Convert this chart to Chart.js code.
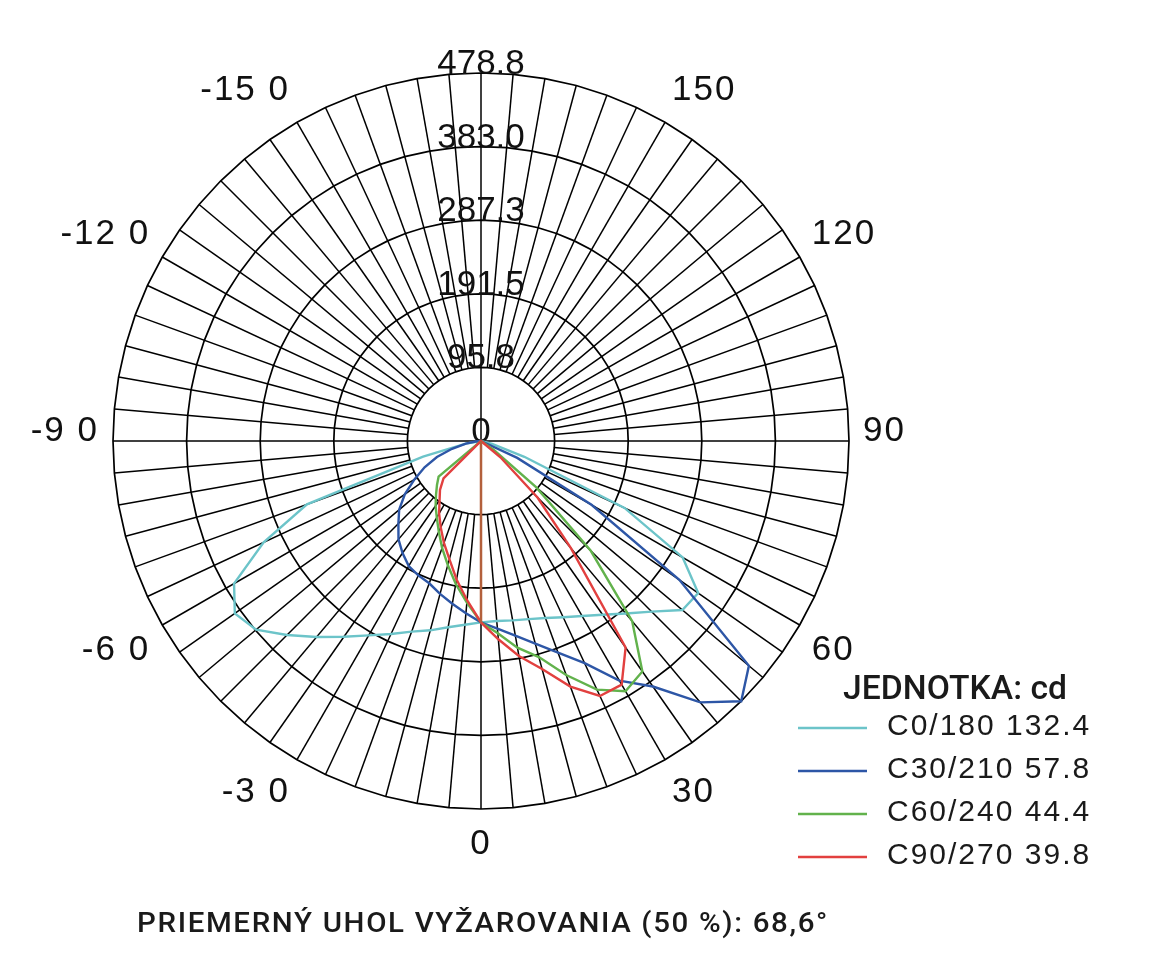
<!DOCTYPE html>
<html>
<head>
<meta charset="utf-8">
<title>Svietivost</title>
<script src="https://cdn.jsdelivr.net/npm/chart.js@4.4.1/dist/chart.umd.min.js"></script>
<style>
  html, body { margin: 0; padding: 0; background: #fff; }
  #polar { position: absolute; left: 0; top: 0; }
</style>
</head>
<body>
<canvas id="polar" width="1150" height="974"></canvas>
<script>
// gamma angles (deg), 0 = straight down, + to the right
const gamma = [-90, -85, -80, -75, -70, -65, -60, -55, -50, -45, -40, -35, -30, -25, -20, -15, -10, -5,
  0, 5, 10, 15, 20, 25, 30, 35, 40, 45, 50, 55, 60, 65, 70, 75, 80, 85, 90];

// intensity in cd
const c0_180 = [0, 0, 20, 78, 241, 312, 371, 391, 382, 357, 333, 311, 292, 277, 264, 255, 246, 240,
  236, 235, 237, 240, 245, 253, 263, 276, 293, 314, 342, 345, 303, 206, 60, 15, 0, 0, 0];
const c30_210 = [0, 7, 20, 39, 61, 81, 100, 121, 139, 152, 167, 178, 188, 193, 197, 206, 215, 225,
  236, 245, 257, 273, 293, 319, 360, 390, 444, 478.8, 455, 315, 166, 52, 0, 0, 0, 0, 0];
const c60_240 = [0, 0, 0, 0, 0, 0, 0, 0, 72, 81, 91, 103, 115, 130, 148, 167, 189, 211,
  236, 251, 273, 291, 324, 357, 376, 366, 306, 202, 94, 20, 0, 0, 0, 0, 0, 0, 0];
const c90_270 = [0, 0, 0, 0, 0, 0, 0, 0, 0, 69, 83, 94, 109, 124, 141, 159, 183, 208,
  236, 259, 284, 307, 340, 366, 366, 328, 182, 104, 33, 0, 0, 0, 0, 0, 0, 0, 0];
// closing stroke of the curves down to the nadir value
const nadir = [0, 0, 0, 0, 0, 0, 0, 0, 0, 0, 0, 0, 0, 0, 0, 0, 0, 0,
  236, 0, 0, 0, 0, 0, 0, 0, 0, 0, 0, 0, 0, 0, 0, 0, 0, 0, 0];

const seriesNames = ['C0/180 132.4', 'C30/210 57.8', 'C60/240 44.4', 'C90/270 39.8'];
const seriesColors = ['#6cc4c9', '#2d56a6', '#62b24c', '#e2403f'];

const ringLabels = ['0', '95.8', '191.5', '287.3', '383.0', '478.8'];
const angleTicks = [150, 120, 90, 60, 30, 0, -30, -60, -90, -120, -150];
const angleLabels = ['150', '120', '90', '60', '30', '0', '-3 0', '-6 0', '-9 0', '-12 0', '-15 0'];

const unitTitle = 'JEDNOTKA: cd';
const footer = 'PRIEMERNÝ UHOL VYŽAROVANIA (50 %): 68,6°';

// radar spokes every 5 deg, clockwise from the top (180)
const spokes = [];
for (let a = 180; a > -180; a -= 5) spokes.push(a);

function onSpokes(values) {
  return spokes.map(a => {
    const k = gamma.indexOf(a);
    return k < 0 ? 0 : values[k];
  });
}

function fitText(ctx, text, x, y, width) {
  const w = ctx.measureText(text).width;
  ctx.save();
  ctx.translate(x, y);
  ctx.scale(width / w, 1);
  ctx.fillText(text, 0, 0);
  ctx.restore();
}

const polarDecor = {
  id: 'polarDecor',
  beforeDatasetsDraw(chart) {
    const r = chart.scales.r;
    const ctx = chart.ctx;
    const R = r.drawingArea;
    const inner = r.getDistanceFromCenterForValue(r.ticks[1].value);
    ctx.save();

    // spokes: the axes run through the centre, the rest start at the first ring
    ctx.strokeStyle = '#000';
    ctx.lineWidth = 1.5;
    spokes.forEach((a, i) => {
      const p0 = r.getPointPosition(i, a % 90 === 0 ? 0 : inner);
      const p1 = r.getPointPosition(i, R);
      ctx.beginPath();
      ctx.moveTo(p0.x, p0.y);
      ctx.lineTo(p1.x, p1.y);
      ctx.stroke();
    });

    ctx.fillStyle = '#111';
    ctx.font = '35px "Liberation Sans", Arial, sans-serif';
    ctx.textBaseline = 'alphabetic';

    // ring values along the top axis
    ctx.textAlign = 'center';
    r.ticks.forEach((t, k) => {
      const d = r.getDistanceFromCenterForValue(t.value);
      ctx.fillText(ringLabels[k], r.xCenter, r.yCenter - d + 1);
    });

    // angle labels round the rim
    ctx.letterSpacing = '2px';
    angleTicks.forEach((a, k) => {
      const i = spokes.indexOf(a);
      const px = r.getPointPosition(i, R + 14);
      let y;
      if (Math.abs(a) === 90) {
        y = r.yCenter;
      } else if (Math.abs(a) > 90) {
        y = r.getPointPosition(i, R + 26).y;
      } else {
        y = r.getPointPosition(i, R + 20).y + 25;
      }
      ctx.textAlign = a === 0 ? 'center' : (a > 0 ? 'left' : 'right');
      ctx.fillText(angleLabels[k], px.x, y);
    });
    ctx.letterSpacing = '0px';
    ctx.restore();
  },
  afterDraw(chart) {
    const ctx = chart.ctx;
    ctx.save();
    ctx.fillStyle = '#1a1a1a';
    ctx.textAlign = 'left';
    ctx.textBaseline = 'alphabetic';

    ctx.font = '500 34px Roboto, sans-serif';
    fitText(ctx, unitTitle, 843, 699, 224);

    ctx.font = '30px "Liberation Sans", Arial, sans-serif';
    ctx.letterSpacing = '2px';
    seriesNames.forEach((name, k) => {
      const y = 728 + k * 43;
      ctx.strokeStyle = seriesColors[k];
      ctx.lineWidth = 2.5;
      ctx.beginPath();
      ctx.moveTo(798, y);
      ctx.lineTo(867, y);
      ctx.stroke();
      ctx.fillText(name, 887, y + 7);
    });

    ctx.font = '500 27px Roboto, sans-serif';
    ctx.letterSpacing = '1.5px';
    fitText(ctx, footer, 137, 932, 692);
    ctx.letterSpacing = '0px';
    ctx.restore();
  }
};

const curves = [c0_180, c30_210, c60_240, c90_270];
const datasets = curves.map((values, k) => ({
  label: seriesNames[k],
  data: onSpokes(values),
  borderColor: seriesColors[k],
  backgroundColor: 'transparent',
  borderWidth: 2.4,
  fill: false,
  order: 4 - k
}));
datasets.push({
  label: 'nadir',
  data: onSpokes(nadir),
  borderColor: '#b3603c',
  backgroundColor: 'transparent',
  borderWidth: 2.5,
  fill: false,
  order: 0
});

new Chart(document.getElementById('polar'), {
  type: 'radar',
  data: { labels: spokes, datasets: datasets },
  options: {
    responsive: false,
    animation: false,
    layout: { padding: { left: 113, right: 301, top: 73, bottom: 165 } },
    elements: {
      point: { radius: 0, hoverRadius: 0 },
      line: { tension: 0 }
    },
    plugins: {
      legend: { display: false },
      tooltip: { enabled: false }
    },
    scales: {
      r: {
        min: 0,
        max: 478.8,
        ticks: { display: false, count: 6 },
        pointLabels: { display: false },
        angleLines: { display: false },
        grid: { color: '#000', lineWidth: 1.7 }
      }
    }
  },
  plugins: [polarDecor]
});
</script>
</body>
</html>
